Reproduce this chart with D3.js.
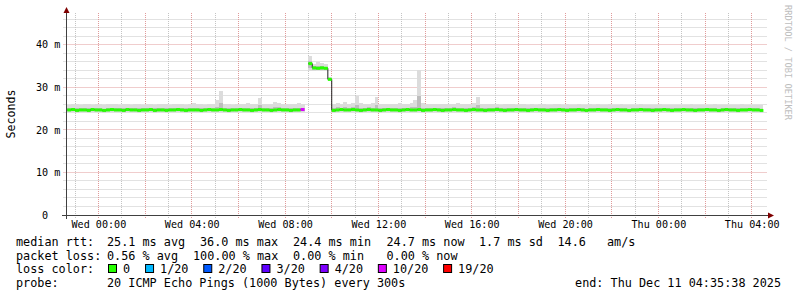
<!DOCTYPE html>
<html>
<head>
<meta charset="utf-8">
<script src="https://cdn.jsdelivr.net/npm/d3@7"></script>
<style>
  body { margin: 0; background: #fff; }
  text { font-family: "DejaVu Sans Mono", monospace; fill: #000; white-space: pre; }
</style>
</head>
<body>
<svg id="chart" width="797" height="297"></svg>
<script>
// ---- data ----
const startTime = new Date(2025, 11, 9, 22, 40);   // first sample, 10 min apart
const stepMinutes = 10;

// median rtt in ms, one value per step (null = no answer)
const median = [
  24.7,24.8,24.6,24.7,24.7,24.6,24.8,24.7,24.7,24.6,24.7,24.8,
  24.7,24.7,24.6,24.8,24.7,24.7,24.6,24.7,24.7,24.8,24.6,24.7,
  24.7,24.6,24.7,24.7,24.8,24.7,24.6,24.7,24.7,24.7,24.6,24.7,
  24.8,24.7,24.7,24.8,24.7,24.6,24.7,24.7,24.8,24.7,24.7,24.6,
  24.7,24.8,24.7,24.7,24.6,24.7,24.8,24.7,24.7,24.6,24.7,24.7,
  24.8,null,35.6,34.6,34.5,34.6,34.5,31.9,24.6,24.7,24.8,24.7,
  24.7,24.8,24.7,24.6,24.7,24.8,24.7,24.7,24.6,24.7,24.8,24.7,
  24.7,24.6,24.7,24.8,24.7,24.7,24.8,24.6,24.7,24.7,24.8,24.7,
  24.6,24.7,24.7,24.8,24.7,24.7,24.6,24.7,24.8,24.7,24.7,24.6,
  24.7,24.7,24.8,24.7,24.6,24.7,24.7,24.8,24.7,24.7,24.6,24.7,
  24.8,24.7,24.7,24.6,24.7,24.7,24.8,24.7,24.6,24.7,24.7,24.8,
  24.7,24.6,24.7,24.7,24.8,24.7,24.7,24.6,24.7,24.8,24.7,24.7,
  24.6,24.7,24.7,24.8,24.7,24.7,24.6,24.7,24.7,24.8,24.7,24.6,
  24.7,24.7,24.8,24.7,24.7,24.6,24.7,24.7,24.8,24.7,24.7,24.6,
  24.7,24.8,24.7,24.7,24.6,24.7,24.7,24.8,24.7,24.7,24.6
];

// lowest ping of each step (bottom of the smoke)
const smokeLo = [
  24.2,24.3,24.1,24.2,24.2,24.1,24.3,24.2,24.2,24.1,24.2,24.3,
  24.2,24.2,24.1,24.3,24.2,24.2,24.1,24.2,24.2,24.3,24.1,24.2,
  24.2,24.1,24.2,24.2,24.3,24.2,24.1,24.2,24.2,24.2,24.1,24.2,
  24.3,24.2,24.2,24.3,24.2,24.1,24.2,24.2,24.3,24.2,24.2,24.1,
  24.2,24.3,24.2,24.2,24.1,24.2,24.3,24.2,24.2,24.1,24.2,24.2,
  24.3,null,33.8,33.9,34.0,33.9,33.8,31.5,24.1,24.2,24.3,24.2,
  24.2,24.3,24.2,24.1,24.2,24.3,24.2,24.2,24.1,24.2,24.3,24.2,
  24.2,24.1,24.2,24.3,24.2,24.2,24.3,24.1,24.2,24.2,24.3,24.2,
  24.1,24.2,24.2,24.3,24.2,24.2,24.1,24.2,24.3,24.2,24.2,24.1,
  24.2,24.2,24.3,24.2,24.1,24.2,24.2,24.3,24.2,24.2,24.1,24.2,
  24.3,24.2,24.2,24.1,24.2,24.2,24.3,24.2,24.1,24.2,24.2,24.3,
  24.2,24.1,24.2,24.2,24.3,24.2,24.2,24.1,24.2,24.3,24.2,24.2,
  24.1,24.2,24.2,24.3,24.2,24.2,24.1,24.2,24.2,24.3,24.2,24.1,
  24.2,24.2,24.3,24.2,24.2,24.1,24.2,24.2,24.3,24.2,24.2,24.1,
  24.2,24.3,24.2,24.2,24.1,24.2,24.2,24.3,24.2,24.2,24.1
];

// highest ping of each step (top of the smoke)
const smokeHi = [
  25.9,26.1,26.0,25.8,26.2,26.0,25.9,26.1,26.0,25.8,26.1,26.0,
  26.2,25.9,26.0,26.1,25.8,26.0,26.2,25.9,26.0,26.1,25.9,26.0,
  26.1,26.0,25.8,26.2,26.0,26.1,25.9,26.0,26.3,26.0,26.1,25.9,
  26.0,26.2,27.0,29.2,26.2,26.1,25.9,26.2,26.0,26.1,26.3,26.0,
  26.2,27.6,26.1,26.0,26.2,26.6,26.4,26.2,26.0,26.1,26.2,26.3,
  26.0,null,37.5,35.6,36.0,35.8,35.5,32.5,26.2,26.4,26.1,26.5,
  26.2,26.3,28.0,26.4,26.1,26.2,26.3,27.8,26.2,26.1,26.0,26.2,
  26.1,26.3,26.2,26.0,26.4,27.0,34.2,26.3,26.2,26.1,26.0,26.2,
  26.2,26.0,26.1,26.2,26.3,26.1,26.0,26.2,26.4,27.8,26.1,26.0,
  26.1,26.0,26.2,25.9,26.0,26.1,26.0,25.9,26.1,26.0,25.9,26.0,
  25.9,26.0,26.1,25.9,25.8,26.0,26.1,25.9,26.0,25.8,25.9,26.0,
  25.9,25.8,26.0,25.9,26.0,25.8,25.9,26.0,25.9,25.8,26.0,25.9,
  25.8,25.9,25.8,26.0,25.9,25.8,25.9,25.8,26.0,25.9,25.8,25.9,
  25.9,25.8,25.9,25.8,26.0,25.9,25.8,25.9,25.8,25.9,26.0,25.8,
  25.9,25.8,25.9,25.8,25.9,26.0,25.8,25.9,25.8,25.9,25.8
];

// steps with lost packets (index into the arrays above, lost out of 20)
const lossIndex = [60];
const lossCount = [10];

const lossLabels = ["0", "1/20", "2/20", "3/20", "4/20", "10/20", "19/20"];
const lossSteps = [1, 2, 3, 4, 10, 19];
const lossColors = ["#26ff00", "#00b8ff", "#0059ff", "#5e00ff", "#7e00ff", "#dd00ff", "#ff0000"];

const yTicks = [0, 10, 20, 30, 40];
const yTickLabels = [" 0", "10 m", "20 m", "30 m", "40 m"];

const rttText = ["median rtt:", "25.1 ms avg", "36.0 ms max", "24.4 ms min", "24.7 ms now", "1.7 ms sd", "14.6", "am/s"];
const lossText = ["packet loss:", "0.56 % avg", "100.00 % max", "0.00 % min", "0.00 % now"];
const probeText = ["probe:", "20 ICMP Echo Pings (1000 Bytes) every 300s"];
const endText = "end: Thu Dec 11 04:35:38 2025";

// ---- layout ----
const svg = d3.select("#chart");
const plotLeft = 66.5, plotRight = 766.5, plotTop = 13, plotBottom = 215;

const x = d3.scaleTime()
  .domain([new Date(2025, 11, 9, 22, 38), new Date(2025, 11, 11, 4, 38)])
  .range([plotLeft, plotRight]);
const y = d3.scaleLinear().domain([0, 47.5]).range([plotBottom, plotTop]);
const lossColor = d3.scaleThreshold().domain(lossSteps).range(lossColors);

const lossMap = new Map(lossIndex.map((k, j) => [k, lossCount[j]]));
const points = median.map((v, i) => ({
  t0: d3.timeMinute.offset(startTime, i * stepMinutes),
  t1: d3.timeMinute.offset(startTime, (i + 1) * stepMinutes),
  v, lo: smokeLo[i], hi: smokeHi[i], loss: lossMap.get(i) || 0
})).filter(d => d.v != null);

const px = v => Math.floor(v) + 0.5;

// grid
const grid = svg.append("g");
const minorY = d3.range(2, 48, 2).filter(v => v % 10 !== 0);
grid.selectAll(".hmin").data(minorY).join("line")
  .attr("x1", plotLeft - 3).attr("x2", plotRight)
  .attr("y1", d => px(y(d))).attr("y2", d => px(y(d)))
  .attr("stroke", "#c4c4c4").attr("stroke-dasharray", "1,1");
const hours = d3.timeHour.range(x.domain()[0], x.domain()[1]);
grid.selectAll(".vmin").data(hours.filter(d => d.getHours() % 2 !== 0)).join("line")
  .attr("x1", d => px(x(d))).attr("x2", d => px(x(d)))
  .attr("y1", plotTop).attr("y2", plotBottom + 3)
  .attr("stroke", "#c4c4c4").attr("stroke-dasharray", "1,1");
grid.selectAll(".hmaj").data(yTicks.slice(1)).join("line")
  .attr("x1", plotLeft - 3).attr("x2", plotRight)
  .attr("y1", d => px(y(d))).attr("y2", d => px(y(d)))
  .attr("stroke", "#e09a9a").attr("stroke-dasharray", "1,1");
grid.selectAll(".vmaj").data(hours.filter(d => d.getHours() % 2 === 0)).join("line")
  .attr("x1", d => px(x(d))).attr("x2", d => px(x(d)))
  .attr("y1", plotTop).attr("y2", plotBottom + 3)
  .attr("stroke", "#e09a9a").attr("stroke-dasharray", "1,1");

// smoke
const plot = svg.append("g");
plot.selectAll(".smoke").data(points).join("rect")
  .attr("x", d => x(d.t0)).attr("width", d => x(d.t1) - x(d.t0))
  .attr("y", d => y(d.hi)).attr("height", d => y(d.lo) - y(d.hi))
  .attr("fill", "#dcdcdc").attr("shape-rendering", "crispEdges");
plot.selectAll(".smoke2").data(points).join("rect")
  .attr("x", d => x(d.t0)).attr("width", d => x(d.t1) - x(d.t0))
  .attr("y", d => y(d.v + (d.hi - d.v) * 0.35))
  .attr("height", d => y(d.lo + (d.v - d.lo) * 0.4) - y(d.v + (d.hi - d.v) * 0.35))
  .attr("fill", "#bdbdbd").attr("shape-rendering", "crispEdges");

// thin dark median line (shows the jumps)
const medLine = d3.line()
  .defined(d => d.v != null)
  .x(d => x(d.t)).y(d => y(d.v))
  .curve(d3.curveStepAfter);
const lineData = median.map((v, i) => ({ t: d3.timeMinute.offset(startTime, i * stepMinutes), v }));
plot.append("path").datum(lineData)
  .attr("d", medLine).attr("fill", "none")
  .attr("stroke", "#202020").attr("stroke-width", 1);

// loss coloured median
plot.selectAll(".med").data(points).join("line")
  .attr("x1", d => x(d.t0)).attr("x2", d => x(d.t1))
  .attr("y1", d => y(d.v)).attr("y2", d => y(d.v))
  .attr("stroke", d => lossColor(d.loss)).attr("stroke-width", 3);

// axes
svg.append("line").attr("x1", 62).attr("x2", 769).attr("y1", plotBottom + 0.5).attr("y2", plotBottom + 0.5)
  .attr("stroke", "#404040");
svg.append("line").attr("x1", plotLeft).attr("x2", plotLeft).attr("y1", 10).attr("y2", plotBottom + 4)
  .attr("stroke", "#404040");
svg.append("path").attr("d", `M768,${plotBottom - 2.5}L774,${plotBottom + 0.5}L768,${plotBottom + 3.5}Z`).attr("fill", "#7f0000");
svg.append("path").attr("d", `M${plotLeft - 3},13L${plotLeft},7L${plotLeft + 3},13Z`).attr("fill", "#7f0000");

// tick labels
svg.selectAll(".ylab").data(yTicks).join("text")
  .attr("x", 36).attr("y", d => y(d) + 3.6)
  .attr("xml:space", "preserve")
  .style("font-size", "10.1px")
  .text((d, i) => yTickLabels[i]);
const fmt = d3.timeFormat("%a %H:%M");
svg.selectAll(".xlab").data(hours.filter(d => d.getHours() % 4 === 0)).join("text")
  .attr("x", d => x(d) + 0.5).attr("y", 228)
  .attr("text-anchor", "middle")
  .style("font-size", "10.1px")
  .text(d => fmt(d));

svg.append("text")
  .attr("transform", "translate(14.5,114) rotate(-90)")
  .attr("text-anchor", "middle")
  .style("font-size", "11.6px")
  .text("Seconds");
svg.append("text")
  .attr("transform", "translate(785,5) rotate(90)")
  .style("font-size", "8.7px").style("fill", "#bdbdbd")
  .text("RRDTOOL / TOBI OETIKER");

// legend
const rowY = [245.8, 259.5, 273.2, 286.9];
const rttX = [16, 107, 200, 293, 386.5, 479, 557.5, 607];
const lossX = [16, 107, 193, 293, 386.5];
const legend = svg.append("g").style("font-size", "11.8px");
rttText.forEach((s, i) => legend.append("text").attr("x", rttX[i]).attr("y", rowY[0]).text(s));
lossText.forEach((s, i) => legend.append("text").attr("x", lossX[i]).attr("y", rowY[1]).text(s));
legend.append("text").attr("x", 16).attr("y", rowY[2]).text("loss color:");
let lx = 108;
lossLabels.forEach((s, i) => {
  legend.append("rect").attr("x", lx + 0.5).attr("y", 264.5).attr("width", 8).attr("height", 8)
    .attr("fill", lossColors[i]).attr("stroke", "#000");
  legend.append("text").attr("x", lx + 15).attr("y", rowY[2]).text(s);
  lx += 30 + s.length * 7.05;
});
legend.append("text").attr("x", 16).attr("y", rowY[3]).text(probeText[0]);
legend.append("text").attr("x", 107).attr("y", rowY[3]).text(probeText[1]);
legend.append("text").attr("x", 781).attr("y", rowY[3]).attr("text-anchor", "end").text(endText);
</script>
</body>
</html>
